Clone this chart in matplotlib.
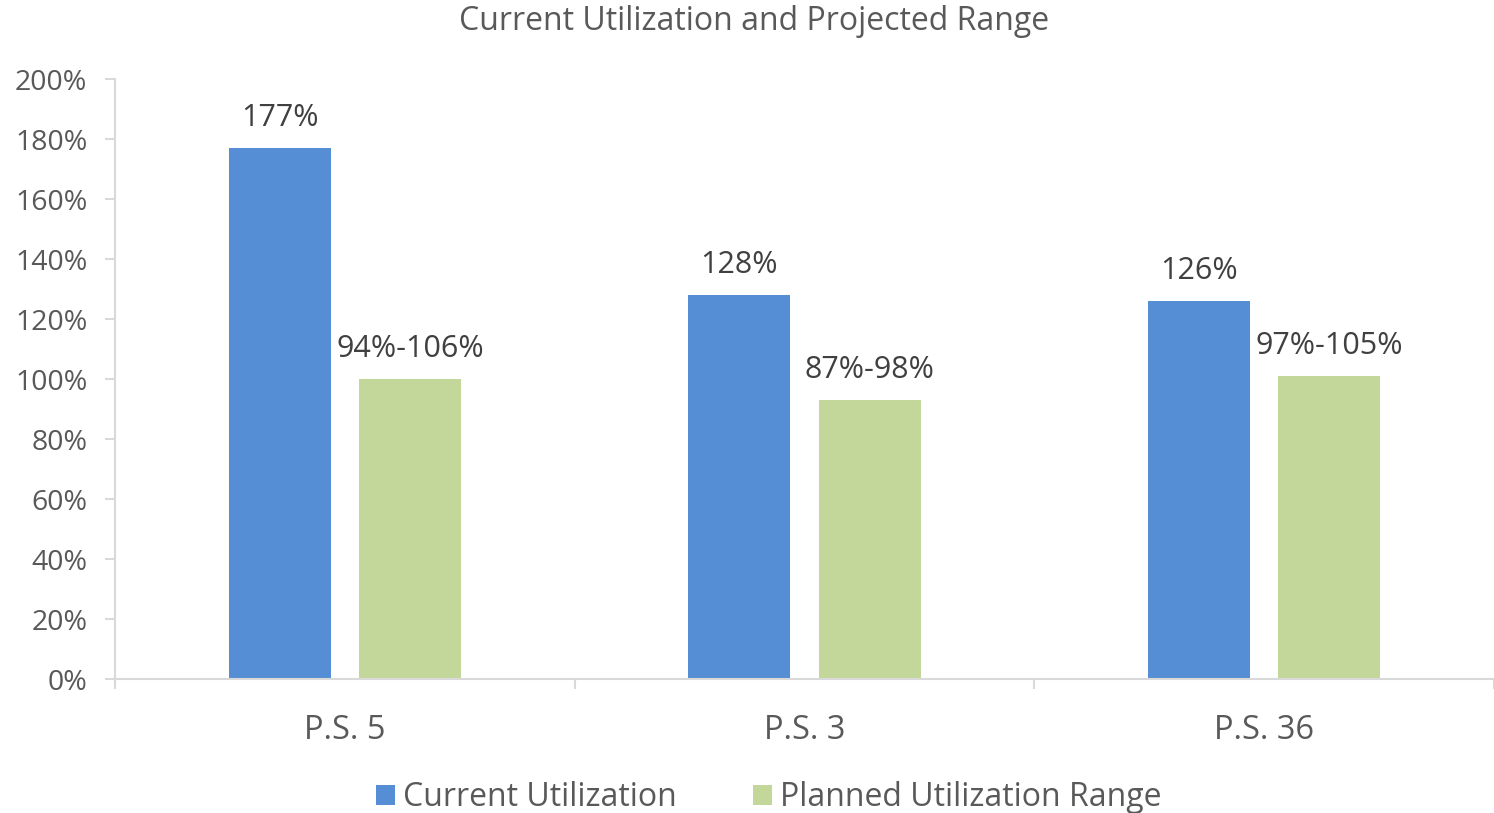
import numpy as np
import matplotlib.pyplot as plt
from matplotlib.ticker import FuncFormatter

plt.rcParams['font.family'] = ['Open Sans', 'DejaVu Sans']

# chart data
schools = ["P.S. 5", "P.S. 3", "P.S. 36"]
current = [177, 128, 126]
planned = [100, 93, 101]
current_labels = ["177%", "128%", "126%"]
planned_labels = ["94%-106%", "87%-98%", "97%-105%"]

blue = "#558ED5"
green = "#C4D79B"
axis_gray = "#D9D9D9"
text_gray = "#595959"

fig = plt.figure(figsize=(14.94, 8.13), dpi=100)
ax = fig.add_axes([0.077, 0.1648, 0.923, 0.738])

x = np.arange(len(schools))
w = 0.222
off = 0.142
b1 = ax.bar(x - off, current, w, color=blue, label="Current Utilization")
b2 = ax.bar(x + off, planned, w, color=green, label="Planned Utilization Range")

for rect, lab in zip(b1, current_labels):
    ax.text(rect.get_x() + rect.get_width() / 2, rect.get_height() + 5, lab,
            ha="center", va="bottom", fontsize=22, color="#404040")
for rect, lab in zip(b2, planned_labels):
    ax.text(rect.get_x() + rect.get_width() / 2, rect.get_height() + 5, lab,
            ha="center", va="bottom", fontsize=22, color="#404040")

ax.set_xlim(-0.5, len(schools) - 0.5)
ax.set_ylim(0, 200)
ax.set_yticks(np.arange(0, 201, 20))
ax.yaxis.set_major_formatter(FuncFormatter(lambda v, p: f"{int(v)}%"))
ax.set_xticks(x)
ax.set_xticklabels(schools)
ax.set_xticks(np.arange(-0.5, len(schools), 1), minor=True)

for s in ["top", "right"]:
    ax.spines[s].set_visible(False)
for s in ["left", "bottom"]:
    ax.spines[s].set_color(axis_gray)
    ax.spines[s].set_linewidth(1.5)

ax.tick_params(axis="y", colors=axis_gray, length=7, width=1.5, labelsize=20.5,
               labelcolor=text_gray, pad=13)
ax.tick_params(axis="x", which="major", length=0, labelsize=23.5,
               labelcolor=text_gray, pad=25.5)
ax.tick_params(axis="x", which="minor", length=7, width=1.5, colors=axis_gray)

fig.text(0.505, 0.973, "Current Utilization and Projected Range",
         ha="center", va="center", fontsize=23, color=text_gray)

ax.legend(loc="center", bbox_to_anchor=(0.474, -0.198), ncol=2, frameon=False,
          fontsize=23, handlelength=0.6, handleheight=0.6, columnspacing=2.4,
          handletextpad=0.25, labelcolor=text_gray)

fig.savefig("out.png", dpi=100)
